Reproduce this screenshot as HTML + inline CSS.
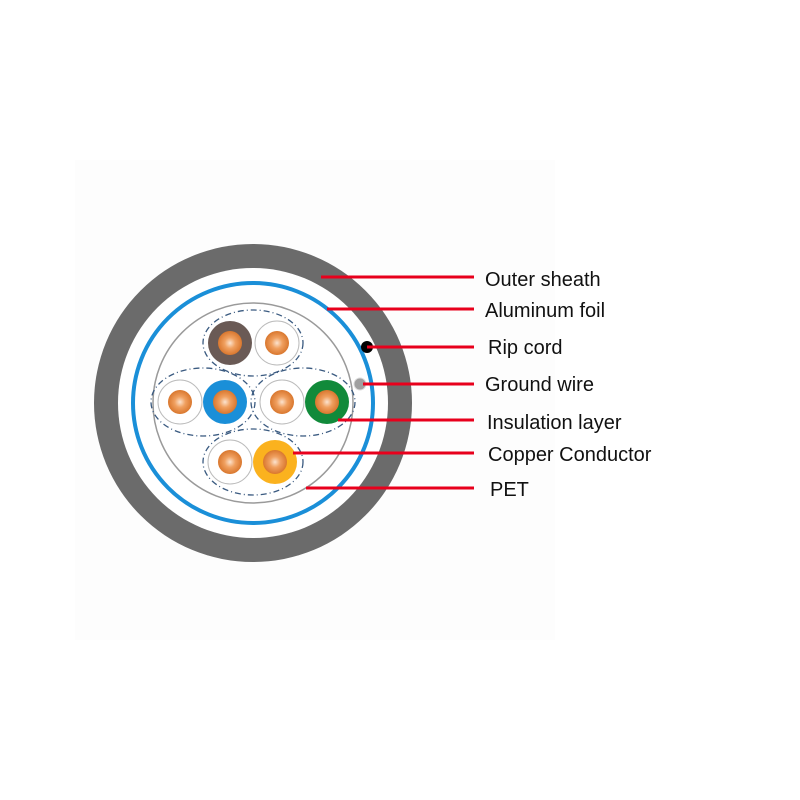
<!DOCTYPE html>
<html><head><meta charset="utf-8"><style>html,body{margin:0;padding:0;background:#fff}svg{display:block}</style></head>
<body>
<svg width="800" height="800" viewBox="0 0 800 800" xmlns="http://www.w3.org/2000/svg">
<defs>
<radialGradient id="cu" cx="50%" cy="50%" r="50%">
<stop offset="0" stop-color="#fbe3cf"/><stop offset="0.45" stop-color="#f0a060"/><stop offset="1" stop-color="#d9772e"/>
</radialGradient>
</defs>
<rect x="75" y="160" width="480" height="480" fill="#fdfdfd"/>
<circle cx="253" cy="403" r="159" fill="#6b6b6b"/>
<circle cx="253" cy="403" r="135" fill="#fff"/>
<circle cx="253" cy="403" r="120" fill="none" stroke="#1a8fd8" stroke-width="4"/>
<circle cx="253" cy="403" r="100" fill="#fff" stroke="#9a9a9a" stroke-width="1.5"/>
<g fill="none" stroke="#3a5a80" stroke-width="1.3" stroke-dasharray="6 3 1 3">
<ellipse cx="253" cy="343" rx="50" ry="33"/>
<ellipse cx="203" cy="402" rx="52" ry="34"/>
<ellipse cx="303" cy="402" rx="52" ry="34"/>
<ellipse cx="253" cy="462" rx="50" ry="33"/>
</g>
<g stroke="#bbb" stroke-width="1">
<circle cx="230" cy="343" r="22" fill="#6a5a55" stroke="none"/>
<circle cx="277" cy="343" r="22" fill="#fff"/>
<circle cx="180" cy="402" r="22" fill="#fff"/>
<circle cx="225" cy="402" r="22" fill="#1a8fd8" stroke="none"/>
<circle cx="282" cy="402" r="22" fill="#fff"/>
<circle cx="327" cy="402" r="22" fill="#118a3a" stroke="none"/>
<circle cx="230" cy="462" r="22" fill="#fff"/>
<circle cx="275" cy="462" r="22" fill="#fbb21e" stroke="none"/>
</g>
<g fill="url(#cu)">
<circle cx="230" cy="343" r="12"/><circle cx="277" cy="343" r="12"/>
<circle cx="180" cy="402" r="12"/><circle cx="225" cy="402" r="12"/>
<circle cx="282" cy="402" r="12"/><circle cx="327" cy="402" r="12"/>
<circle cx="230" cy="462" r="12"/><circle cx="275" cy="462" r="12"/>
</g>
<circle cx="367" cy="347" r="6" fill="#000"/>
<circle cx="360" cy="384" r="6" fill="#a0a0a0" stroke="#ddd" stroke-width="1"/>
<g stroke="#e8001c" stroke-width="3">
<line x1="321" y1="277" x2="474" y2="277"/>
<line x1="327" y1="309" x2="474" y2="309"/>
<line x1="367" y1="347" x2="474" y2="347"/>
<line x1="363" y1="384" x2="474" y2="384"/>
<line x1="338" y1="420" x2="474" y2="420"/>
<line x1="293" y1="453" x2="474" y2="453"/>
<line x1="306" y1="488" x2="474" y2="488"/>
</g>
<g font-family="Liberation Sans, sans-serif" font-size="20" fill="#111">
<text x="485" y="286">Outer sheath</text>
<text x="485" y="317">Aluminum foil</text>
<text x="488" y="354">Rip cord</text>
<text x="485" y="391">Ground wire</text>
<text x="487" y="429">Insulation layer</text>
<text x="488" y="461">Copper Conductor</text>
<text x="490" y="496">PET</text>
</g>
</svg>
</body></html>
